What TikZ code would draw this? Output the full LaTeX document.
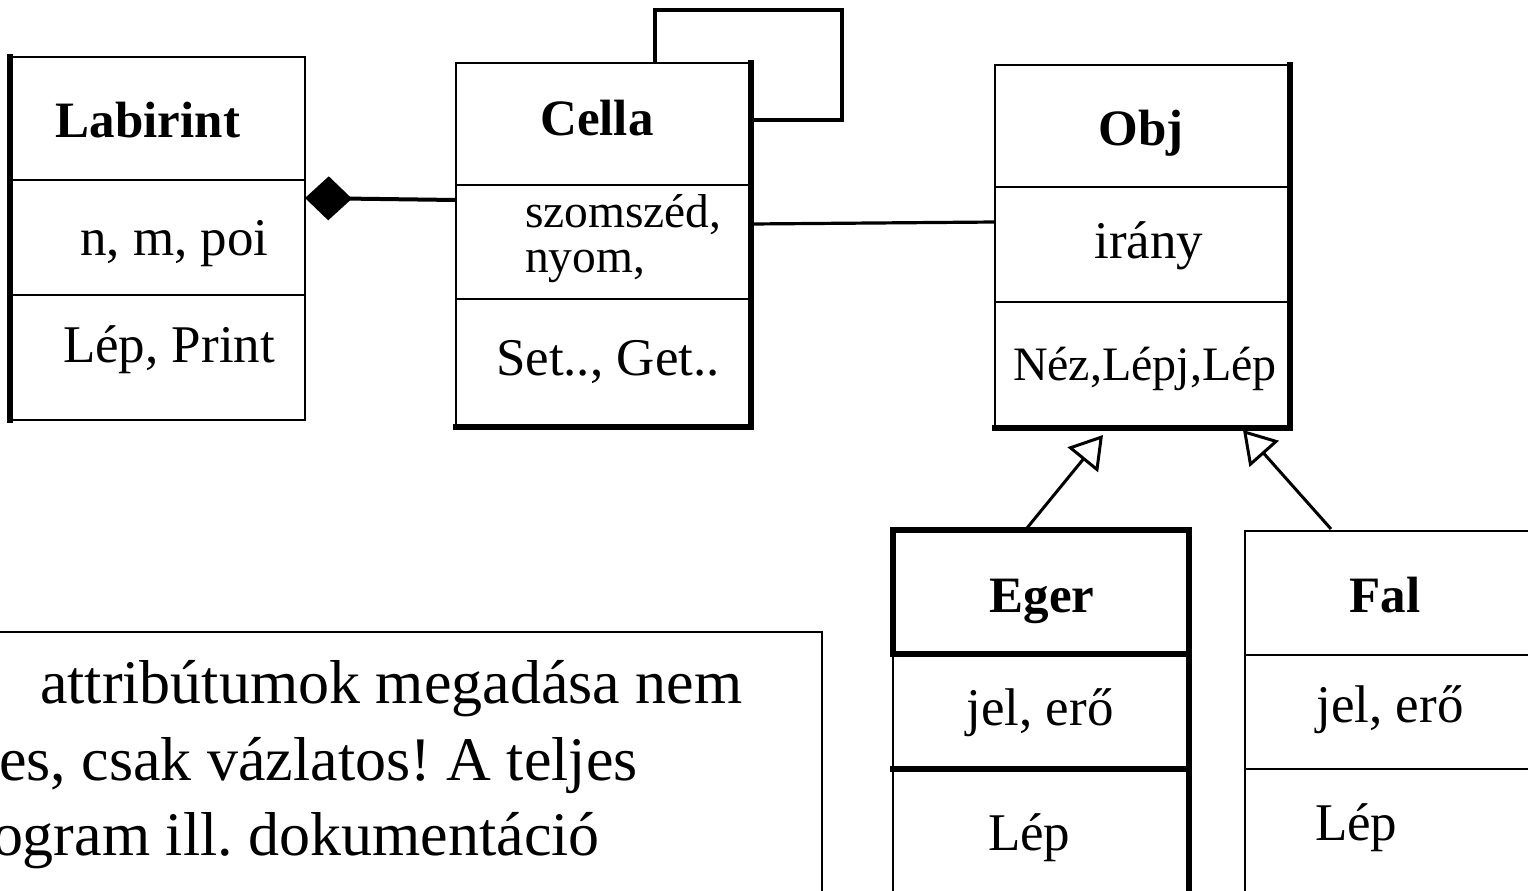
\documentclass[tikz,border=0pt]{standalone}
\usepackage{fontspec}
\setmainfont{Liberation Serif}
\usetikzlibrary{calc,arrows.meta}
\frenchspacing

% font sizes of the class diagram
\newcommand\ttlfont{\fontsize{25.5pt}{30pt}\bfseries\selectfont}
\newcommand\memfont{\fontsize{26.5pt}{30pt}\selectfont}
\newcommand\smallmem{\fontsize{23.75pt}{22.5pt}\selectfont}
\newcommand\notefont{\fontsize{31pt}{38pt}\selectfont}

\tikzset{
  comp/.style={draw, rectangle, inner sep=0pt, outer sep=0pt, anchor=north west,
               line width=1.4pt, line join=miter},
  heavy/.style={line width=2.7pt, line cap=rect},
  txt/.style={inner sep=0pt, outer sep=0pt},
  assoc/.style={line width=1.6pt},
  compo/.style={line width=2pt, {Diamond[length=23.5pt,width=22pt]}-},
  gener/.style={line width=1.5pt, -{Triangle[open,length=16pt,width=19.5pt]}},
}

% one compartment of a class box: name, left, top, width, height (in px units)
\newcommand\compart[5]{%
  \node[comp, minimum width=#4*0.5pt, minimum height=#5*0.5pt] (#1) at (#2,#3) {};}

\begin{document}
\begin{tikzpicture}[x=0.5pt,y=-0.5pt]
\useasboundingbox (0,0) rectangle (1528,890);
\clip (0,0) rectangle (1528,890);

% Labirint
\compart{labT}{10}{57}{295}{123}
\compart{labA}{10}{180}{295}{115}
\compart{labM}{10}{295}{295}{125}
\draw[heavy] (labT.north west) -- (labM.south west);
\node[txt, anchor=base] (labN) at (148,137) {\ttlfont Labirint};
\node[txt, anchor=base west] (labAt) at (80,255) {\memfont n, m, poi};
\node[txt, anchor=base west] (labMt) at (63,362) {\memfont Lép, Print};

% Cella
\compart{celT}{456}{63}{295}{122}
\compart{celA}{456}{185}{295}{114}
\compart{celM}{456}{299}{295}{128}
\draw[heavy] (celT.north east) -- (celM.south east) -- (celM.south west);
\node[txt, anchor=base] (celN) at (597,135) {\ttlfont Cella};
\node[txt, anchor=base west] (celAt1) at (525,227) {\smallmem szomszéd,};
\node[txt, anchor=base west] (celAt2) at (525,272) {\smallmem nyom,};
\node[txt, anchor=base west] (celMt) at (496,375) {\memfont Set.., Get..};

% Obj
\compart{objT}{995}{65}{295}{122}
\compart{objA}{995}{187}{295}{115}
\compart{objM}{995}{302}{295}{126}
\draw[heavy] (objT.north east) -- (objM.south east) -- (objM.south west);
\node[txt, anchor=base] (objN) at (1141,145) {\ttlfont Obj};
\node[txt, anchor=base] (objAt) at (1149,258) {\memfont irány};
\node[txt, anchor=base west] (objMt) at (1013,380) {\fontsize{24pt}{30pt}\selectfont Néz,Lépj,Lép};

% Eger
\compart{egT}{893}{530}{296}{124}
\compart{egA}{893}{654}{296}{115}
\compart{egM}{893}{769}{296}{200}
\draw[heavy] (egT.south west) -- (egT.north west) -- (egT.north east) -- (egM.south east);
\draw[heavy] (egA.south west) -- (egA.south east);
\draw[heavy] (egT.south west) -- (egT.south east);
\node[txt, anchor=base] (egN) at (1042,612) {\ttlfont Eger};
\node[txt, anchor=base] (egAt) at (1040,725) {\memfont jel, erő};
\node[txt, anchor=base west] (egMt) at (988,850) {\memfont Lép};

% Fal
\compart{falT}{1245}{531}{320}{124}
\compart{falA}{1245}{655}{320}{114}
\compart{falM}{1245}{769}{320}{200}
\node[txt, anchor=base] (falN) at (1385,612) {\ttlfont Fal};
\node[txt, anchor=base] (falAt) at (1390,722) {\memfont jel, erő};
\node[txt, anchor=base west] (falMt) at (1315,840) {\memfont Lép};

% note
\node[comp, line width=1pt, minimum width=842*0.5pt, minimum height=330*0.5pt] (note) at (-20,632) {};
\node[txt, anchor=base west] (note1) at (40,703) {\notefont attribútumok megadása nem};
\node[txt, anchor=base west] (note2) at (-1,780) {\notefont es, csak vázlatos! A teljes};
\node[txt, anchor=base west] (note3) at (-8,855) {\notefont ogram ill. dokumentáció};

% connector end points on the box borders
\coordinate (labR) at ($(labA.north east)+(0,18)$);
\coordinate (celL) at ($(celA.north west)+(0,15)$);
\coordinate (celR) at ($(celA.north east)+(0,39)$);
\coordinate (objL) at ($(objA.north west)+(0,35)$);
\coordinate (egUp) at ($(egT.north west)+(134,-2)$);
\coordinate (falUp) at ($(falT.north west)+(86,-2)$);
\coordinate (objTipL) at ($(objM.south west)+(108,7)$);
\coordinate (objTipR) at ($(objM.south west)+(248,2)$);
\coordinate (loopA) at ($(celT.north west)+(199,0)$);
\coordinate (loopB) at ($(celT.north east)+(0,57)$);

% composition Labirint <>-- Cella
\draw[compo] (labR) -- (celL);
% association Cella -- Obj
\draw[assoc] (celR) -- (objL);
% self association of Cella
\draw[line width=2pt, line join=miter] (loopA) |- (842,10) |- (loopB);
% generalisations
\draw[gener] (egUp) -- (objTipL);
\draw[gener] (falUp) -- (objTipR);
\end{tikzpicture}
\end{document}
